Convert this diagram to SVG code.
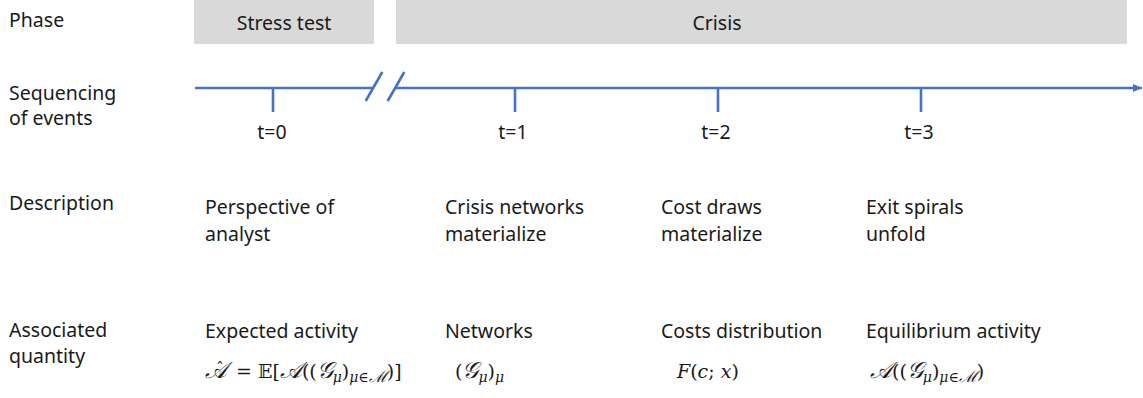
<svg xmlns="http://www.w3.org/2000/svg" width="1143" height="398" viewBox="0 0 1143 398">
<style>
.t{font-family:"Noto Sans","Open Sans","Liberation Sans",sans-serif;font-size:19.5px;fill:#1a1a1a}
.c{text-anchor:middle}
.m{font-family:"DejaVu Serif","Liberation Serif",serif;font-size:19px;fill:#1a1a1a;font-style:italic}
.n{font-style:normal}
.s{font-size:23px}
.sub{font-size:14px}
.ax{stroke:#4472C4;stroke-width:2.6;fill:none}
.box{fill:#D9D9D9}
</style>
<defs>
<marker id="ah" markerUnits="userSpaceOnUse" markerWidth="10" markerHeight="10" refX="9" refY="5" orient="auto">
<path d="M0,1 L9,5 L0,9 Z" fill="#4472C4"/>
</marker>
</defs>
<g id="row-labels">
<text class="t" x="9" y="27">Phase</text>
<text class="t" x="9" y="100">Sequencing</text>
<text class="t" x="9" y="125">of events</text>
<text class="t" x="9" y="210">Description</text>
<text class="t" x="9" y="337">Associated</text>
<text class="t" x="9" y="363">quantity</text>
</g>
<g id="phase-stress">
<rect class="box" x="194" y="0" width="180" height="44"/>
<text class="t c" x="284" y="30">Stress test</text>
</g>
<g id="phase-crisis">
<rect class="box" x="396" y="0" width="731" height="44"/>
<text class="t c" x="717" y="30">Crisis</text>
</g>
<g id="connectors">
<line class="ax" x1="195" y1="88" x2="373" y2="88"/>
<line class="ax" x1="395" y1="88" x2="1142" y2="88" marker-end="url(#ah)"/>
<line class="ax" x1="365.7" y1="101" x2="382.3" y2="72"/>
<line class="ax" x1="387.7" y1="101" x2="404.3" y2="72"/>
</g>
<g id="t0">
<line class="ax" x1="273" y1="88" x2="273" y2="112"/>
<text class="t c" x="272" y="139">t=0</text>
<text class="t" x="205" y="214">Perspective of</text>
<text class="t" x="205" y="241">analyst</text>
<text class="t" x="205" y="338">Expected activity</text>
<text class="m" x="205" y="378"><tspan class="s">𝒜</tspan><tspan class="n" dx="-11" dy="-4" style="font-size:16px">ˆ</tspan><tspan class="n" dx="6" dy="4"> = 𝔼[</tspan><tspan class="s">𝒜</tspan><tspan class="n">((</tspan><tspan class="s">𝒢</tspan><tspan class="sub" dy="4">μ</tspan><tspan class="n" dy="-4">)</tspan><tspan class="sub" dy="4">μ∈</tspan><tspan style="font-size:16px">ℳ</tspan><tspan class="n" dy="-4">)]</tspan></text>
</g>
<g id="t1">
<line class="ax" x1="515" y1="88" x2="515" y2="112"/>
<text class="t c" x="513" y="139">t=1</text>
<text class="t" x="445" y="214">Crisis networks</text>
<text class="t" x="445" y="241">materialize</text>
<text class="t" x="445" y="338">Networks</text>
<text class="m" x="455" y="378"><tspan class="n">(</tspan><tspan class="s">𝒢</tspan><tspan class="sub" dy="4">μ</tspan><tspan class="n" dy="-4">)</tspan><tspan class="sub" dy="4">μ</tspan></text>
</g>
<g id="t2">
<line class="ax" x1="718" y1="88" x2="718" y2="112"/>
<text class="t c" x="716" y="139">t=2</text>
<text class="t" x="661" y="214">Cost draws</text>
<text class="t" x="661" y="241">materialize</text>
<text class="t" x="661" y="338">Costs distribution</text>
<text class="m" x="677" y="378">F<tspan class="n">(</tspan>c<tspan class="n">; </tspan>x<tspan class="n">)</tspan></text>
</g>
<g id="t3">
<line class="ax" x1="921" y1="88" x2="921" y2="112"/>
<text class="t c" x="919" y="139">t=3</text>
<text class="t" x="866" y="214">Exit spirals</text>
<text class="t" x="866" y="241">unfold</text>
<text class="t" x="866" y="338">Equilibrium activity</text>
<text class="m" x="870" y="378"><tspan class="s">𝒜</tspan><tspan class="n">((</tspan><tspan class="s">𝒢</tspan><tspan class="sub" dy="4">μ</tspan><tspan class="n" dy="-4">)</tspan><tspan class="sub" dy="4">μ∈</tspan><tspan style="font-size:16px">ℳ</tspan><tspan class="n" dy="-4">)</tspan></text>
</g>
</svg>
